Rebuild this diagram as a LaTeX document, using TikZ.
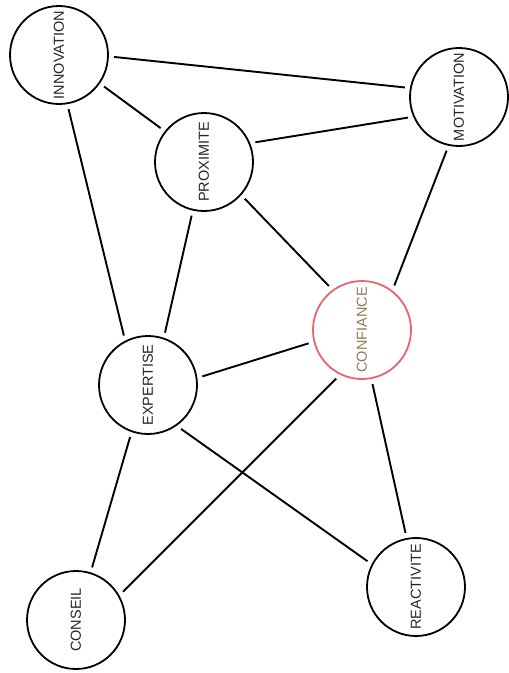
\documentclass[tikz,border=0pt]{standalone}
\usepackage{fontspec}
\setmainfont{Liberation Sans}
\usepackage{graphicx}
\definecolor{confred}{HTML}{E8646E}
\definecolor{conftext}{HTML}{8C7C58}

\begin{document}
\begin{tikzpicture}[x=1pt, y=-1pt, concept/.style={circle, draw, line width=1.8pt, minimum size=98pt, inner sep=0pt, outer sep=6pt, font=\fontsize{14.5}{15}\selectfont, text=black!85}, link/.style={line width=1.9pt}]
\useasboundingbox[fill=white] (0,0) rectangle (509,673);
\node[concept] (innovation) at (59,55) {\rotatebox{90}{INNOVATION}};
\node[concept] (motivation) at (459,97) {\rotatebox{90}{MOTIVATION}};
\node[concept] (proximite) at (204,162) {\rotatebox{90}{PROXIMITE}};
\node[concept, draw=confred, text=conftext] (confiance) at (362,330) {\rotatebox{90}{CONFIANCE}};
\node[concept] (expertise) at (148,385) {\rotatebox{90}{EXPERTISE}};
\node[concept] (conseil) at (76,620) {\rotatebox{90}{CONSEIL}};
\node[concept] (reactivite) at (416,587) {\rotatebox{90}{REACTIVITE}};
\draw[link] (innovation.-2) -- (motivation.170);
\draw[link] (innovation.-35) -- (proximite.142);
\draw[link] (innovation.-80) -- (expertise.116);
\draw[link] (proximite.21) -- (motivation.202);
\draw[link] (proximite.257) -- (expertise.72);
\draw[link] (proximite.-42) -- (confiance.127);
\draw[link] (motivation.257) -- (confiance.54);
\draw[link] (confiance.194) -- (expertise.9);
\draw[link] (confiance.242) -- (conseil.31);
\draw[link] (confiance.281) -- (reactivite.101);
\draw[link] (expertise.251) -- (conseil.73);
\draw[link] (expertise.307) -- (reactivite.152);
\end{tikzpicture}
\end{document}
